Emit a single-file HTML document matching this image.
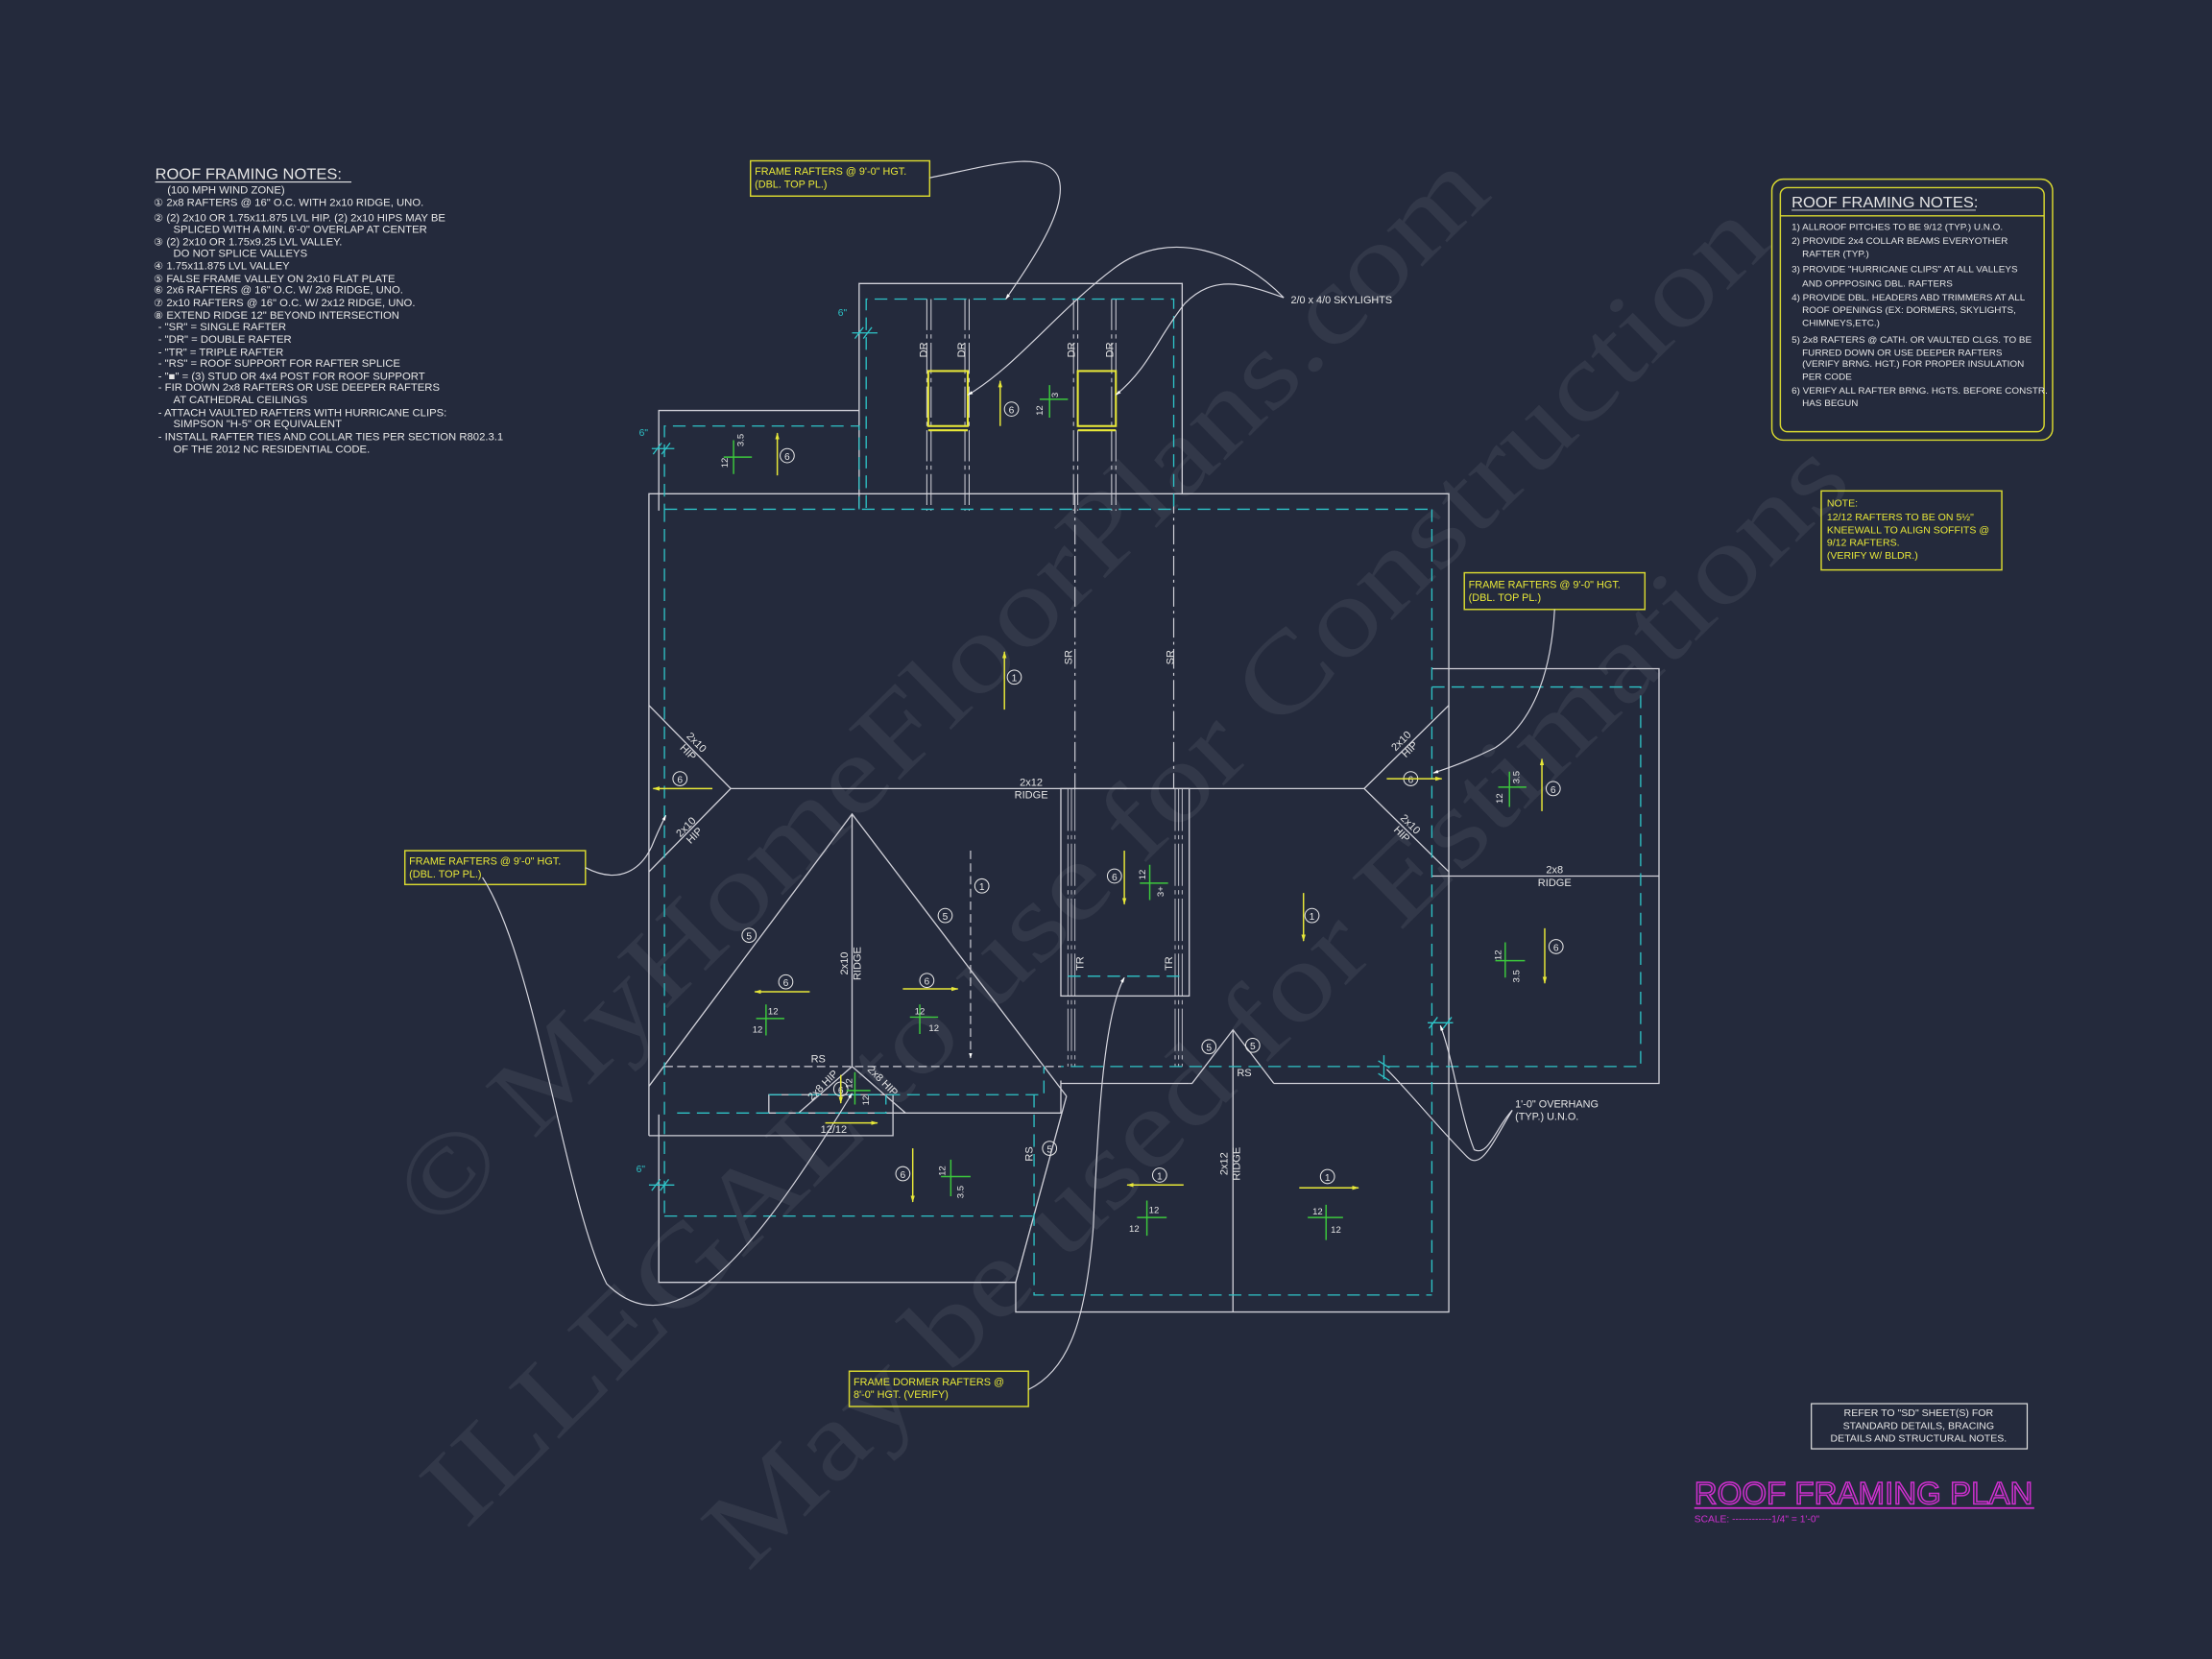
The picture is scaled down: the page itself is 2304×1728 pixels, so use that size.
<!DOCTYPE html>
<html><head><meta charset="utf-8"><style>
html,body{margin:0;padding:0;background:#242a3c}
svg{display:block}
text{font-family:"Liberation Sans",sans-serif}
</style></head><body>
<svg width="2304" height="1728" viewBox="0 0 1568 1176" xmlns="http://www.w3.org/2000/svg">
<defs>
<marker id="ya" viewBox="0 0 10 10" refX="9" refY="5" markerWidth="5" markerHeight="5" orient="auto"><path d="M0,2 L10,5 L0,8 z" fill="#e8e838"/></marker>
<marker id="wa" viewBox="0 0 10 10" refX="9" refY="5" markerWidth="5" markerHeight="5" orient="auto"><path d="M0,2 L10,5 L0,8 z" fill="#fff"/></marker>
</defs>
<rect width="1568" height="1176" fill="#242a3c"/>

<g fill="#ffffff" fill-opacity="0.065">
<text x="0" y="0" font-size="78" transform="translate(310,875) rotate(-44.5)" textLength="1050" lengthAdjust="spacingAndGlyphs" style="font-family:'Liberation Serif',serif">© MyHomeFloorPlans.com</text>
<text x="0" y="0" font-size="78" transform="translate(330,1085) rotate(-44.5)" textLength="1300" lengthAdjust="spacingAndGlyphs" style="font-family:'Liberation Serif',serif">ILLEGAL to use for Construction</text>
<text x="0" y="0" font-size="78" transform="translate(530,1115) rotate(-44.5)" textLength="1100" lengthAdjust="spacingAndGlyphs" style="font-family:'Liberation Serif',serif">May be used for Estimations</text>
</g>

<g fill="#e6e6e6" font-size="7.2" transform="translate(110,0) scale(1.07,1) translate(-110,0)">
<text x="110" y="127" font-size="10.5">ROOF FRAMING NOTES:</text>
<line x1="110" y1="129" x2="240" y2="129" stroke="#e6e6e6" stroke-width="0.8"/>
<text x="118" y="137">(100 MPH WIND ZONE)</text>
<text x="109" y="146">①  2x8 RAFTERS @ 16" O.C. WITH 2x10 RIDGE, UNO.</text>
<text x="109" y="157">②  (2) 2x10 OR 1.75x11.875 LVL HIP. (2) 2x10 HIPS MAY BE</text>
<text x="122" y="165">SPLICED WITH A MIN. 6'-0" OVERLAP AT CENTER</text>
<text x="109" y="174">③  (2) 2x10 OR 1.75x9.25 LVL VALLEY.</text>
<text x="122" y="182">DO NOT SPLICE VALLEYS</text>
<text x="109" y="191">④  1.75x11.875 LVL VALLEY</text>
<text x="109" y="200">⑤  FALSE FRAME VALLEY ON 2x10 FLAT PLATE</text>
<text x="109" y="208">⑥  2x6 RAFTERS @ 16" O.C. W/ 2x8 RIDGE, UNO.</text>
<text x="109" y="217">⑦  2x10 RAFTERS @ 16" O.C. W/ 2x12 RIDGE, UNO.</text>
<text x="109" y="226">⑧  EXTEND RIDGE 12" BEYOND INTERSECTION</text>
<text x="112" y="234">-   "SR" = SINGLE RAFTER</text>
<text x="112" y="243">-   "DR" = DOUBLE RAFTER</text>
<text x="112" y="252">-   "TR" = TRIPLE RAFTER</text>
<text x="112" y="260">-   "RS" = ROOF SUPPORT FOR RAFTER SPLICE</text>
<text x="112" y="269">-   "■"  = (3) STUD OR 4x4 POST FOR ROOF SUPPORT</text>
<text x="112" y="277">-   FIR DOWN 2x8 RAFTERS OR USE DEEPER RAFTERS</text>
<text x="122" y="286">AT CATHEDRAL CEILINGS</text>
<text x="112" y="295">-   ATTACH VAULTED RAFTERS WITH HURRICANE CLIPS:</text>
<text x="122" y="303">SIMPSON "H-5" OR EQUIVALENT</text>
<text x="112" y="312">-   INSTALL RAFTER TIES AND COLLAR TIES PER SECTION R802.3.1</text>
<text x="122" y="321">OF THE 2012 NC RESIDENTIAL CODE.</text>
</g>

<rect x="1256" y="127" width="199" height="185" rx="8" fill="none" stroke="#d8d830" stroke-width="1"/>
<rect x="1262" y="133" width="187" height="173" rx="5" fill="none" stroke="#d8d830" stroke-width="1"/>
<line x1="1262" y1="153" x2="1449" y2="153" stroke="#d8d830" stroke-width="1"/>
<g fill="#e6e6e6" font-size="6.3" transform="translate(1270,0) scale(1.07,1) translate(-1270,0)">
<text x="1270" y="147" font-size="10.5">ROOF FRAMING NOTES:</text>
<line x1="1270" y1="149" x2="1392" y2="149" stroke="#e6e6e6" stroke-width="0.6"/>
<text x="1270" y="163">1) ALLROOF PITCHES TO BE  9/12 (TYP.) U.N.O.</text>
<text x="1270" y="173">2) PROVIDE 2x4 COLLAR BEAMS EVERYOTHER</text>
<text x="1277" y="182">RAFTER (TYP.)</text>
<text x="1270" y="193">3) PROVIDE "HURRICANE CLIPS" AT ALL VALLEYS</text>
<text x="1277" y="203">AND OPPPOSING DBL. RAFTERS</text>
<text x="1270" y="213">4) PROVIDE DBL. HEADERS ABD TRIMMERS AT ALL</text>
<text x="1277" y="222">ROOF OPENINGS (EX: DORMERS, SKYLIGHTS,</text>
<text x="1277" y="231">CHIMNEYS,ETC.)</text>
<text x="1270" y="243">5) 2x8 RAFTERS @ CATH. OR VAULTED CLGS. TO BE</text>
<text x="1277" y="252">FURRED DOWN OR USE DEEPER RAFTERS</text>
<text x="1277" y="260">(VERIFY BRNG. HGT.) FOR PROPER INSULATION</text>
<text x="1277" y="269">PER CODE</text>
<text x="1270" y="279">6) VERIFY ALL RAFTER BRNG. HGTS. BEFORE CONSTR.</text>
<text x="1277" y="288">HAS BEGUN</text>
</g>

<rect x="1291" y="348" width="128" height="56" fill="none" stroke="#d8d830" stroke-width="1"/>
<g fill="#e8e838" font-size="7.2">
<text x="1295" y="359">NOTE:</text>
<text x="1295" y="369">12/12 RAFTERS TO BE ON 5½"</text>
<text x="1295" y="378">KNEEWALL TO ALIGN SOFFITS @</text>
<text x="1295" y="387">9/12 RAFTERS.</text>
<text x="1295" y="396">(VERIFY W/ BLDR.)</text>
</g>

<g fill="none" stroke="#d8d830" stroke-width="1">
<rect x="532" y="114" width="127" height="25"/>
<rect x="1038" y="406" width="128" height="26"/>
<rect x="287" y="603" width="128" height="24"/>
<rect x="602" y="972" width="127" height="25"/>
</g>
<g fill="#e8e838" font-size="7.4">
<text x="535" y="124">FRAME RAFTERS @ 9'-0" HGT.</text><text x="535" y="133">(DBL. TOP PL.)</text>
<text x="1041" y="417">FRAME RAFTERS @ 9'-0" HGT.</text><text x="1041" y="426">(DBL. TOP PL.)</text>
<text x="290" y="613">FRAME RAFTERS @ 9'-0" HGT.</text><text x="290" y="622">(DBL. TOP PL.)</text>
<text x="605" y="982">FRAME DORMER RAFTERS @</text><text x="605" y="991">8'-0" HGT. (VERIFY)</text>
</g>

<rect x="1284" y="995" width="153" height="32" fill="none" stroke="#e6e6e6" stroke-width="0.8"/>
<g fill="#e6e6e6" font-size="7.2" text-anchor="middle">
<text x="1360" y="1004">REFER TO "SD"  SHEET(S) FOR</text>
<text x="1360" y="1013">STANDARD DETAILS, BRACING</text>
<text x="1360" y="1022">DETAILS AND STRUCTURAL NOTES.</text>
</g>
<text x="1201" y="1066" font-size="22" fill="none" stroke="#d030d0" stroke-width="1" textLength="240" lengthAdjust="spacingAndGlyphs">ROOF FRAMING PLAN</text>
<line x1="1201" y1="1069" x2="1442" y2="1069" stroke="#d030d0" stroke-width="1.2"/>
<text x="1201" y="1079" font-size="7" fill="#d030d0">SCALE: ------------1/4" = 1'-0"</text>

<g fill="none" stroke="#d0d0d8" stroke-width="0.9">
<polyline points="609,360 609,201 838,201 838,350"/>
<polyline points="467,362 467,291 609,291"/>
<polyline points="460,805 460,350 1027,350 1027,930 720,930 720,909 467,909 467,790"/>
<polyline points="1015,474 1176,474 1176,768 903,768"/>
<line x1="1015" y1="621" x2="1176" y2="621"/>
<line x1="518" y1="559" x2="967" y2="559"/>
<polyline points="460,500 518,559 460,618"/>
<polyline points="1027,500 967,559 1027,618"/>
<polyline points="460,770 604,577 756,777"/>
<line x1="604" y1="577" x2="604" y2="756"/>
<polyline points="545,789 545,776 633,776 633,805 460,805"/>
<polyline points="566,789 604,756 642,789"/>
<polyline points="545,789 752,789 752,766"/>
<line x1="720" y1="909" x2="756" y2="777"/>
<rect x="752" y="559" width="91" height="147"/>
<polyline points="843,768 845,768 874,730 903,768"/>
<line x1="874" y1="730" x2="874" y2="930"/>
<line x1="752" y1="768" x2="843" y2="768"/>
</g>
<g stroke="#d0d0d8" stroke-width="0.8" stroke-dasharray="14,3,2,3">
<line x1="762" y1="350" x2="762" y2="559"/><line x1="832" y1="350" x2="832" y2="559"/>
</g>
<g stroke="#d0d0d8" stroke-width="0.7" stroke-dasharray="22,3,3,3">
<line x1="657" y1="212" x2="657" y2="362"/><line x1="660" y1="212" x2="660" y2="362"/>
<line x1="684" y1="212" x2="684" y2="362"/><line x1="687" y1="212" x2="687" y2="362"/>
<line x1="761" y1="212" x2="761" y2="362"/><line x1="764" y1="212" x2="764" y2="362"/>
<line x1="788" y1="212" x2="788" y2="362"/><line x1="791" y1="212" x2="791" y2="362"/>
</g>
<g stroke="#d0d0d8" stroke-width="0.6" stroke-dasharray="30,3,3,3">
<line x1="757" y1="559" x2="757" y2="756"/><line x1="759.5" y1="559" x2="759.5" y2="756"/><line x1="762" y1="559" x2="762" y2="756"/>
<line x1="833" y1="559" x2="833" y2="756"/><line x1="835.5" y1="559" x2="835.5" y2="756"/><line x1="838" y1="559" x2="838" y2="756"/>
</g>
<g fill="none" stroke="#e8e838" stroke-width="1.4">
<rect x="658" y="263" width="28" height="39"/><line x1="658" y1="305" x2="686" y2="305"/>
<rect x="764" y="263" width="27" height="39"/><line x1="764" y1="305" x2="791" y2="305"/>
</g>

<g fill="none" stroke="#2ec4c8" stroke-width="0.9" stroke-dasharray="9,5">
<polyline points="614,360 614,212 832,212 832,361"/>
<polyline points="609,361 609,302 471,302 471,361"/>
<polyline points="471,361 1015,361"/>
<line x1="471" y1="361" x2="471" y2="862"/>
<line x1="1015" y1="361" x2="1015" y2="918"/>
<polyline points="1015,487 1163,487 1163,756 752,756"/>
<polyline points="733,776 733,918 1015,918"/>
<polyline points="471,862 733,862"/>
<polyline points="545,776 740,776 740,756"/>
<polyline points="480,789 628,789 628,776"/>
<line x1="757" y1="692" x2="838" y2="692"/>
</g>
<line x1="471" y1="756" x2="752" y2="756" stroke="#d0d0d8" stroke-width="0.8" stroke-dasharray="6,3"/>
<line x1="688" y1="603" x2="688" y2="750" stroke="#d0d0d8" stroke-width="0.8" stroke-dasharray="6,3" marker-end="url(#wa)"/>

<g stroke="#2ec4c8" stroke-width="0.9" fill="none">
<line x1="604" y1="236" x2="622" y2="236"/><line x1="606" y1="240" x2="612" y2="232"/><line x1="612" y1="240" x2="618" y2="232"/>
<line x1="462" y1="318" x2="478" y2="318"/><line x1="463" y1="322" x2="469" y2="314"/><line x1="469" y1="322" x2="475" y2="314"/>
<line x1="460" y1="840" x2="478" y2="840"/><line x1="462" y1="844" x2="468" y2="836"/><line x1="468" y1="844" x2="474" y2="836"/>
<line x1="1012" y1="725" x2="1030" y2="725"/><line x1="1013" y1="729" x2="1019" y2="721"/><line x1="1023" y1="729" x2="1029" y2="721"/>
<line x1="981" y1="748" x2="981" y2="765"/><line x1="977" y1="752" x2="985" y2="757"/><line x1="977" y1="761" x2="985" y2="766"/>
</g>
<g fill="#2ec4c8" font-size="7"><text x="594" y="224">6"</text><text x="453" y="309">6"</text><text x="451" y="831">6"</text></g>

<g fill="none" stroke="#d8d8e0" stroke-width="0.8">
<path d="M659,126 C700,118 740,105 750,125 C758,145 735,180 713,212" marker-end="url(#wa)"/>
<path d="M910,211 C880,180 830,160 790,190 C750,220 720,260 686,280" marker-end="url(#wa)"/>
<path d="M910,211 C880,200 860,195 840,215 C820,240 815,260 791,280" marker-end="url(#wa)"/>
<path d="M415,615 C440,628 455,615 462,600 C466,590 470,582 472,578" marker-end="url(#wa)"/>
<path d="M342,622 C380,680 400,850 430,910 C480,960 540,880 604,775" marker-end="url(#wa)"/>
<path d="M1102,432 C1100,470 1090,510 1060,530 C1040,540 1025,545 1016,548" marker-end="url(#wa)"/>
<path d="M729,985 C760,970 770,930 775,870 C778,800 782,720 797,693" marker-end="url(#wa)"/>
<path d="M1072,787 C1060,800 1055,820 1045,815 C1035,790 1030,750 1021,727" marker-end="url(#wa)"/>
<path d="M1072,787 C1058,810 1050,830 1040,820 C1020,800 1000,775 983,758"/>
</g>
<g fill="#e6e6e6" font-size="7.4">
<text x="915" y="215">2/0 x 4/0 SKYLIGHTS</text>
<text x="1074" y="785">1'-0" OVERHANG</text><text x="1074" y="794">(TYP.) U.N.O.</text>
</g>

<g fill="#e6e6e6" font-size="7.5" text-anchor="middle">
<text x="731" y="557">2x12</text><text x="731" y="566">RIDGE</text>
<text x="1102" y="619">2x8</text><text x="1102" y="628">RIDGE</text>
<text x="580" y="753">RS</text><text x="882" y="763">RS</text>
<text x="591" y="803">12/12</text>
<text transform="translate(657,248) rotate(-90)">DR</text>
<text transform="translate(684,248) rotate(-90)">DR</text>
<text transform="translate(762,248) rotate(-90)">DR</text>
<text transform="translate(789,248) rotate(-90)">DR</text>
<text transform="translate(760,466) rotate(-90)">SR</text>
<text transform="translate(832,466) rotate(-90)">SR</text>
<text transform="translate(768,683) rotate(-90)">TR</text>
<text transform="translate(831,683) rotate(-90)">TR</text>
<text transform="translate(732,818) rotate(-90)">RS</text>
<text transform="translate(601,683) rotate(-90)">2x10</text><text transform="translate(610,683) rotate(-90)">RIDGE</text>
<text transform="translate(870,825) rotate(-90)">2x12</text><text transform="translate(879,825) rotate(-90)">RIDGE</text>
<text transform="translate(492,528) rotate(45)">2x10</text><text transform="translate(486,535) rotate(45)">HIP</text>
<text transform="translate(488,588) rotate(-45)">2x10</text><text transform="translate(494,594) rotate(-45)">HIP</text>
<text transform="translate(995,527) rotate(-45)">2x10</text><text transform="translate(1001,533) rotate(-45)">HIP</text>
<text transform="translate(998,586) rotate(45)">2x10</text><text transform="translate(992,593) rotate(45)">HIP</text>
<text transform="translate(585,771) rotate(-45)">2x8 HIP</text>
<text transform="translate(624,768) rotate(45)">2x8 HIP</text>
</g>

<g fill="none" stroke="#e6e6e6" stroke-width="0.7">
<circle cx="558" cy="323" r="5"/><circle cx="717" cy="290" r="5"/><circle cx="719" cy="480" r="5"/>
<circle cx="482" cy="552" r="5"/><circle cx="1000" cy="552" r="5"/><circle cx="1101" cy="559" r="5"/>
<circle cx="1103" cy="671" r="5"/><circle cx="790" cy="621" r="5"/><circle cx="930" cy="649" r="5"/>
<circle cx="696" cy="628" r="5"/><circle cx="531" cy="663" r="5"/><circle cx="670" cy="649" r="5"/>
<circle cx="557" cy="696" r="5"/><circle cx="657" cy="695" r="5"/><circle cx="596" cy="772" r="5"/>
<circle cx="640" cy="832" r="5"/><circle cx="744" cy="814" r="5"/><circle cx="857" cy="742" r="5"/>
<circle cx="888" cy="741" r="5"/><circle cx="822" cy="833" r="5"/><circle cx="941" cy="834" r="5"/>
</g>
<g fill="#e6e6e6" font-size="7" text-anchor="middle">
<text x="558" y="326">6</text><text x="717" y="293">6</text><text x="719" y="483">1</text>
<text x="482" y="555">6</text><text x="1000" y="555">6</text><text x="1101" y="562">6</text>
<text x="1103" y="674">6</text><text x="790" y="624">6</text><text x="930" y="652">1</text>
<text x="696" y="631">1</text><text x="531" y="666">5</text><text x="670" y="652">5</text>
<text x="557" y="699">6</text><text x="657" y="698">6</text><text x="596" y="775">6</text>
<text x="640" y="835">6</text><text x="744" y="817">5</text><text x="857" y="745">5</text>
<text x="888" y="744">5</text><text x="822" y="836">1</text><text x="941" y="837">1</text>
</g>

<g stroke="#e8e838" stroke-width="1" marker-end="url(#ya)">
<line x1="551" y1="337" x2="551" y2="307"/>
<line x1="709" y1="302" x2="709" y2="270"/>
<line x1="712" y1="503" x2="712" y2="462"/>
<line x1="505" y1="559" x2="463" y2="559"/>
<line x1="983" y1="552" x2="1022" y2="552"/>
<line x1="1093" y1="575" x2="1093" y2="538"/>
<line x1="1095" y1="658" x2="1095" y2="697"/>
<line x1="797" y1="603" x2="797" y2="641"/>
<line x1="924" y1="633" x2="924" y2="667"/>
<line x1="574" y1="703" x2="535" y2="703"/>
<line x1="640" y1="701" x2="679" y2="701"/>
<line x1="585" y1="796" x2="622" y2="796"/>
<line x1="647" y1="814" x2="647" y2="852"/>
<line x1="839" y1="840" x2="799" y2="840"/>
<line x1="921" y1="842" x2="963" y2="842"/>
<line x1="596" y1="762" x2="596" y2="782"/>
</g>

<g stroke="#3cc83c" stroke-width="1">
<path d="M520,312 V336 M513,324 H533"/>
<path d="M744,273 V296 M737,283 H757"/>
<path d="M1070,547 V572 M1062,558 H1082"/>
<path d="M1067,668 V693 M1060,681 H1081"/>
<path d="M815,613 V638 M808,626 H828"/>
<path d="M543,712 V734 M536,722 H556"/>
<path d="M652,712 V733 M645,721 H665"/>
<path d="M606,760 V783 M600,773 H617"/>
<path d="M674,822 V848 M667,834 H688"/>
<path d="M813,851 V876 M806,863 H827"/>
<path d="M940,854 V879 M927,863 H952"/>
</g>
<g fill="#e6e6e6" font-size="6.5" text-anchor="middle">
<text transform="translate(527,312) rotate(-90)">3.5</text><text transform="translate(516,328) rotate(-90)">12</text>
<text transform="translate(750,280) rotate(-90)">3</text><text transform="translate(739,291) rotate(-90)">12</text>
<text transform="translate(1077,551) rotate(-90)">3.5</text><text transform="translate(1065,566) rotate(-90)">12</text>
<text transform="translate(1064,677) rotate(-90)">12</text><text transform="translate(1077,692) rotate(-90)">3.5</text>
<text transform="translate(812,620) rotate(-90)">12</text><text transform="translate(825,632) rotate(-90)">3+</text>
<text transform="translate(604,768) rotate(-90)">12</text><text transform="translate(616,780) rotate(-90)">12</text>
<text transform="translate(670,830) rotate(-90)">12</text><text transform="translate(683,845) rotate(-90)">3.5</text>
<text x="548" y="719">12</text><text x="537" y="732">12</text>
<text x="652" y="719">12</text><text x="662" y="731">12</text>
<text x="818" y="860">12</text><text x="804" y="873">12</text>
<text x="934" y="861">12</text><text x="947" y="874">12</text>
</g>
</svg>
</body></html>
